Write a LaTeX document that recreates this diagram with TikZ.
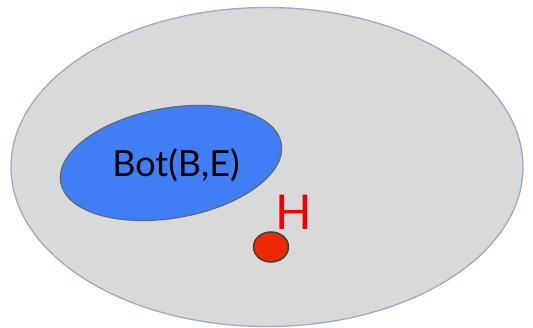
\documentclass[tikz,border=0pt]{standalone}
\usepackage{fontspec}
\setmainfont{Lato}
\usetikzlibrary{shapes.geometric}
\definecolor{outerfill}{RGB}{217,217,217}
\definecolor{outerline}{RGB}{160,168,198}
\definecolor{botblue}{RGB}{64,126,245}
\definecolor{botline}{RGB}{95,105,125}
\definecolor{hred}{RGB}{238,40,0}
\definecolor{hlabel}{RGB}{240,0,0}
\tikzset{
  universe/.style={ellipse, fill=outerfill, draw=outerline, line width=1.3pt, inner sep=0pt},
  setblob/.style={ellipse, fill=botblue, draw=botline, line width=1.2pt, inner sep=0pt},
  point/.style={ellipse, fill=hred, draw=black!75, line width=1.5pt, inner sep=0pt},
  lbl/.style={inner sep=0pt, font=\fontsize{36}{40}\selectfont},
  hlbl/.style={inner sep=0pt, text=hlabel, font=\fontsize{48}{52}\selectfont}
}
\begin{document}
\begin{tikzpicture}[x=1pt,y=-1pt]
\useasboundingbox (0,0) rectangle (533,328);
\node[universe, minimum width=512pt, minimum height=319pt] (U) at (267,167) {};
\node[setblob, minimum width=224pt, minimum height=110pt, rotate=10] (B) at (171,163) {};
\node[lbl] (T) at (176,165) {Bot(B,E)};
\node[point, minimum width=35pt, minimum height=30pt] (P) at (271,247) {};
\node[hlbl] (H) at (294,212) {H};
\end{tikzpicture}
\end{document}
